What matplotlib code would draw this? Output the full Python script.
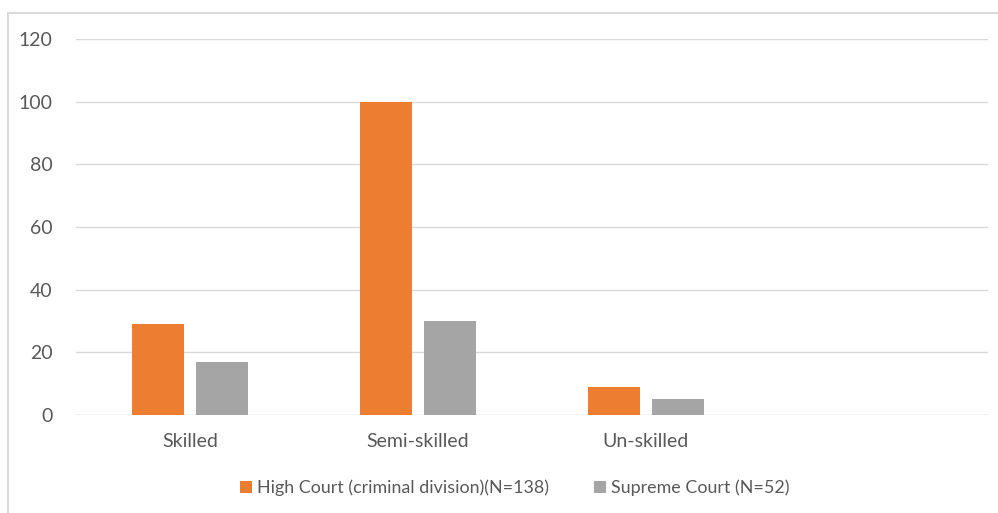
import numpy as np
import matplotlib
matplotlib.use("Agg")
import matplotlib.pyplot as plt
from matplotlib.patches import Rectangle

categories = ["Skilled", "Semi-skilled", "Un-skilled", ""]
high_court = [29, 100, 9]
supreme_court = [17, 30, 5]
series_names = ["High Court (criminal division)(N=138)", "Supreme Court (N=52)"]
yticks = [0, 20, 40, 60, 80, 100, 120]

ORANGE = "#ED7D31"
GRAY = "#A5A5A5"
TEXT = "#595959"

plt.rcParams["font.family"] = ["Lato", "DejaVu Sans"]

fig = plt.figure(figsize=(9.98, 5.13), dpi=100)
fig.patches.append(Rectangle((8 / 998, -0.1), 1.2, (513 - 13) / 513 + 0.1,
                             transform=fig.transFigure, fill=False,
                             edgecolor="#D9D9D9", linewidth=1.5))
ax = fig.add_axes([76 / 998, (513 - 415) / 513, 912 / 998, 376 / 513])

x = np.arange(len(high_court))
w = 0.225
off = 0.141
ax.bar(x - off, high_court, w, color=ORANGE, label=series_names[0], zorder=3)
ax.bar(x + off, supreme_court, w, color=GRAY, label=series_names[1], zorder=3)

ax.set_xlim(-0.5, len(categories) - 0.5)
ax.set_ylim(0, 120)
ax.set_yticks(yticks)
ax.set_xticks(range(len(categories)))
ax.set_xticklabels(categories)
ax.yaxis.grid(True, color="#D9D9D9", linewidth=1, zorder=0)
for s in ax.spines.values():
    s.set_visible(False)
ax.axhline(0, color="#D9D9D9", linewidth=1, zorder=1)
ax.tick_params(axis="both", length=0, labelsize=14, labelcolor=TEXT)
ax.tick_params(axis="y", pad=17)
ax.tick_params(axis="x", pad=13)

ax.legend(loc="center", bbox_to_anchor=(515 / 998, (513 - 488) / 513), bbox_transform=fig.transFigure,
          ncol=2, frameon=False, fontsize=12.9, labelcolor=TEXT,
          handlelength=0.65, handleheight=0.65, handletextpad=0.3, columnspacing=2.5)

fig.savefig("out.png", dpi=100)
